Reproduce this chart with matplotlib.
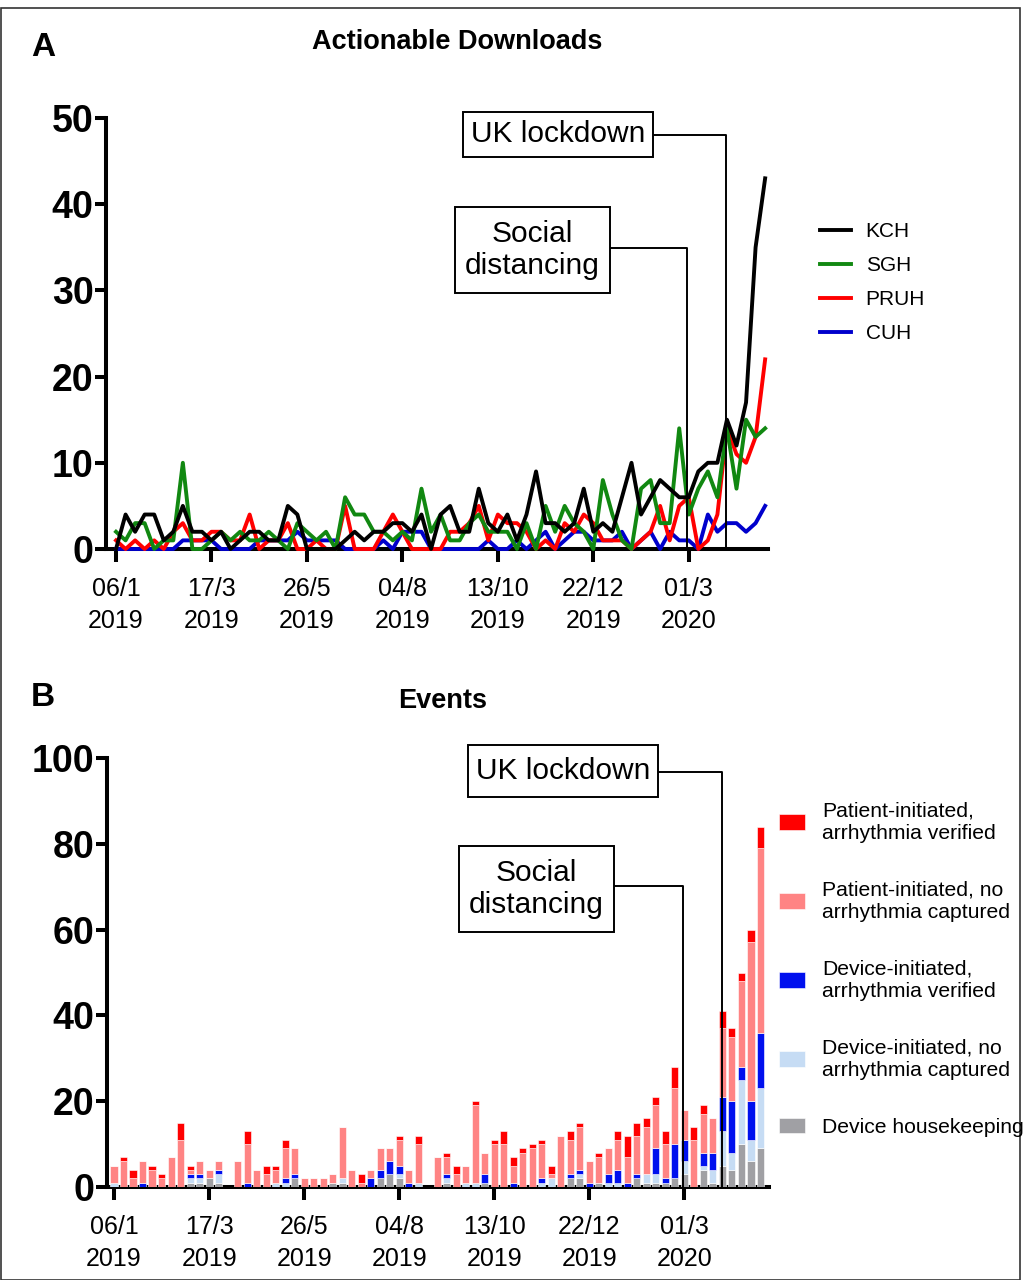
import matplotlib
matplotlib.use('Agg')
import matplotlib.pyplot as plt
from matplotlib.patches import Rectangle
from matplotlib.lines import Line2D

plt.rcParams['font.family'] = ['Liberation Sans', 'DejaVu Sans']

# ---------------- data ----------------
weeks = list(range(69))
tick_weeks = [0, 10, 20, 30, 40, 50, 60]
tick_labels = ['06/1\n2019', '17/3\n2019', '26/5\n2019', '04/8\n2019',
               '13/10\n2019', '22/12\n2019', '01/3\n2020']

kch = [0, 4, 2, 4, 4, 1, 2, 5, 2, 2, 1, 2, 0, 1, 2, 2, 1, 1, 5, 4,
       0, 0, 0, 0, 1, 2, 1, 2, 2, 3, 3, 2, 4, 0, 4, 5, 2, 2, 7, 3,
       2, 4, 1, 4, 9, 3, 3, 2, 3, 7, 2, 3, 2, 6, 10, 4, 6, 8, 7, 6,
       6, 9, 10, 10, 15, 12, 17, 35, 43]
sgh = [2, 1, 3, 3, 0, 1, 1, 10, 0, 0, 1, 2, 1, 2, 1, 1, 2, 1, 0, 3,
       2, 1, 2, 0, 6, 4, 4, 2, 2, 1, 2, 1, 7, 2, 4, 1, 1, 3, 4, 2,
       2, 2, 0, 3, 0, 5, 2, 5, 3, 2, 0, 8, 4, 1, 0, 7, 8, 3, 3, 14,
       4, 7, 9, 6, 14, 7, 15, 13, 14]
pruh = [1, 0, 1, 0, 1, 0, 2, 3, 1, 1, 2, 2, 1, 1, 4, 0, 1, 1, 3, 0,
        0, 1, 0, 0, 5, 0, 0, 0, 2, 4, 2, 0, 0, 0, 0, 2, 2, 3, 5, 1,
        4, 3, 3, 2, 0, 1, 0, 3, 2, 4, 3, 1, 1, 1, 0, 1, 2, 5, 1, 5,
        6, 0, 1, 4, 14, 11, 10, 13, 22]
cuh = [0, 0, 0, 0, 0, 0, 0, 1, 1, 1, 1, 0, 0, 0, 0, 1, 1, 1, 1, 2,
       1, 1, 1, 1, 0, 0, 0, 0, 1, 0, 2, 2, 2, 0, 0, 0, 0, 0, 0, 1,
       0, 0, 1, 0, 1, 2, 0, 1, 2, 2, 1, 1, 1, 2, 0, 1, 2, 0, 2, 1,
       1, 0, 4, 2, 3, 3, 2, 3, 5]

# Events (stack order bottom -> top)
housekeeping = [0, 0, 0, 0, 0, 0, 0, 0, 1, 1, 2, 1, 0, 0, 0, 0, 0, 0, 0, 2,
                0, 0, 0, 1, 1, 0, 0, 0, 2, 3, 2, 0, 0, 0, 0, 1, 0, 0, 0, 1,
                0, 0, 0, 0, 0, 0, 0, 0, 2, 2, 0, 1, 0, 0, 0, 2, 1, 1, 1, 2,
                3, 0, 4, 1, 5, 4, 10, 6, 9]
dev_no = [1, 0, 0, 0, 0, 0, 0, 0, 1, 1, 0, 2, 0, 0, 0, 0, 0, 1, 1, 0,
          0, 0, 0, 0, 1, 0, 0, 0, 0, 0, 1, 0, 1, 0, 0, 1, 0, 1, 1, 0,
          0, 0, 0, 0, 0, 1, 2, 0, 0, 1, 0, 0, 1, 1, 0, 0, 2, 2, 0, 0,
          3, 0, 1, 3, 8, 4, 15, 5, 14]
dev_ver = [0, 0, 0, 1, 0, 0, 0, 0, 1, 1, 0, 1, 0, 0, 1, 0, 0, 0, 1, 1,
           0, 0, 0, 0, 0, 0, 0, 2, 2, 3, 2, 1, 0, 0, 0, 1, 0, 0, 0, 2,
           0, 0, 1, 0, 0, 1, 0, 0, 1, 1, 1, 0, 2, 3, 1, 1, 0, 6, 1, 8,
           5, 0, 3, 4, 8, 12, 3, 9, 13]
pat_no = [4, 6, 2, 5, 4, 2, 7, 11, 1, 3, 2, 2, 0, 6, 9, 4, 3, 3, 7, 6,
          2, 2, 2, 2, 12, 4, 1, 2, 5, 3, 6, 3, 9, 0, 7, 4, 3, 4, 18, 5,
          10, 10, 4, 8, 9, 8, 1, 12, 8, 10, 5, 6, 6, 7, 6, 9, 11, 10, 8, 13,
          7, 11, 9, 8, 16, 15, 20, 37, 43]
pat_ver = [0, 1, 2, 0, 1, 1, 0, 4, 1, 0, 0, 0, 0, 0, 3, 0, 2, 1, 2, 0,
           0, 0, 0, 0, 0, 0, 2, 0, 0, 0, 1, 0, 2, 0, 0, 1, 2, 0, 1, 0,
           1, 3, 2, 1, 1, 1, 2, 0, 2, 1, 0, 1, 0, 2, 5, 3, 2, 2, 3, 5,
           0, 3, 2, 0, 4, 2, 2, 3, 5]

social_distancing_week = 59.85
lockdown_week = 63.95

# ---------------- figure ----------------
W, H = 1031, 1280
fig = plt.figure(figsize=(W / 100, H / 100), dpi=100)


def rect(l, r, t, b):
    return [l / W, 1 - b / H, (r - l) / W, (b - t) / H]


def style_axes(ax):
    for s in ['top', 'right']:
        ax.spines[s].set_visible(False)
    for s in ['left', 'bottom']:
        ax.spines[s].set_linewidth(2.9)
        ax.spines[s].set_capstyle('projecting')
    ax.tick_params(axis='x', which='major', length=9, width=2.9,
                   direction='out', labelsize=18, pad=11)
    ax.tick_params(axis='y', which='major', length=8, width=2.9,
                   direction='out', labelsize=27, pad=1)
    ax.set_xticks(tick_weeks)
    ax.set_xticklabels(tick_labels, linespacing=1.42)
    for lab in ax.get_yticklabels():
        lab.set_fontweight('bold')


def annot(ax, x0, x1, y0, y1, text, conn_y, line_x):
    ax.add_patch(Rectangle((x0, y0), x1 - x0, y1 - y0, fill=True,
                           facecolor='white', edgecolor='black', lw=1.4,
                           clip_on=False, zorder=10))
    ax.text((x0 + x1) / 2, (y0 + y1) / 2, text, ha='center', va='center',
            fontsize=21.5, linespacing=1.2, zorder=11, clip_on=False)
    ax.plot([x1, line_x, line_x], [conn_y, conn_y, 0], color='black',
            lw=1.4, zorder=9, clip_on=False)


# ---- Panel A ----
axA = fig.add_axes(rect(106, 768, 118, 549))
line_specs = [('CUH', cuh, '#0000cc'), ('PRUH', pruh, '#ff0000'),
              ('SGH', sgh, '#118811'), ('KCH', kch, '#000000')]
for z, (name, vals, col) in enumerate(line_specs):
    axA.plot(weeks, vals, color=col, lw=2.8, zorder=3 + z, clip_on=False)
axA.set_xlim(-1.05, 68.3)
axA.set_ylim(0, 50)
axA.set_yticks([0, 10, 20, 30, 40, 50])
style_axes(axA)

handles = [Line2D([], [], color='#000000', lw=2.8),
           Line2D([], [], color='#118811', lw=2.8),
           Line2D([], [], color='#ff0000', lw=2.8),
           Line2D([], [], color='#0000cc', lw=2.8)]
fig.legend(handles, ['KCH', 'SGH', 'PRUH', 'CUH'], loc='upper left',
           bbox_to_anchor=(810 / W, 1 - 212 / H), frameon=False, fontsize=15,
           handlelength=1.45, handletextpad=0.72, labelspacing=0.72,
           borderpad=0)

annot(axA, 36.3, 56.3, 45.5, 50.7, 'UK lockdown', 48.0, lockdown_week)
annot(axA, 35.5, 51.7, 29.7, 39.7, 'Social\ndistancing', 34.9,
      social_distancing_week)

fig.text(457 / W, 1 - 42 / H, 'Actionable Downloads', ha='center',
         va='center', fontsize=19.5, fontweight='bold')
fig.text(43 / W, 1 - 48 / H, 'A', ha='center', va='center', fontsize=24,
         fontweight='bold')

# ---- Panel B ----
axB = fig.add_axes(rect(107, 769, 758, 1187))
series = [('Device housekeeping', housekeeping, '#a0a0a4'),
          ('Device-initiated, no\narrhythmia captured', dev_no, '#c6dcf4'),
          ('Device-initiated,\narrhythmia verified', dev_ver, '#0010ee'),
          ('Patient-initiated, no\narrhythmia captured', pat_no, '#ff8484'),
          ('Patient-initiated,\narrhythmia verified', pat_ver, '#ff0000')]
bottom = [0] * len(weeks)
bars = []
for name, vals, col in series:
    b = axB.bar(weeks, vals, width=0.75, bottom=bottom, color=col,
                edgecolor='white', linewidth=0.4, label=name, zorder=3)
    bars.append(b)
    bottom = [bb + v for bb, v in zip(bottom, vals)]
axB.set_xlim(-0.74, 68.9)
axB.set_ylim(0, 100)
axB.set_yticks([0, 20, 40, 60, 80, 100])
style_axes(axB)

fig.legend(bars[::-1], [s[0] for s in series][::-1], loc='upper left',
           bbox_to_anchor=(768 / W, 1 - 791 / H), frameon=False, fontsize=15.2,
           handlelength=1.27, handleheight=0.75, handletextpad=0.8,
           labelspacing=1.8, borderpad=0)

annot(axB, 37.2, 57.2, 90.9, 103.0, 'UK lockdown', 96.7, lockdown_week + 0.05)
annot(axB, 36.3, 52.6, 59.4, 79.5, 'Social\ndistancing', 70.2,
      social_distancing_week + 0.05)

fig.text(443 / W, 1 - 701 / H, 'Events', ha='center', va='center',
         fontsize=19.5, fontweight='bold')
fig.text(43 / W, 1 - 698 / H, 'B', ha='center', va='center', fontsize=24,
         fontweight='bold')

# outer frame
fig.patches.append(Rectangle((1 / W, 0), 1019 / W, 1 - 8 / H,
                             transform=fig.transFigure, fill=False,
                             edgecolor='#333333', lw=1.2))

fig.savefig('out.png', dpi=100)
